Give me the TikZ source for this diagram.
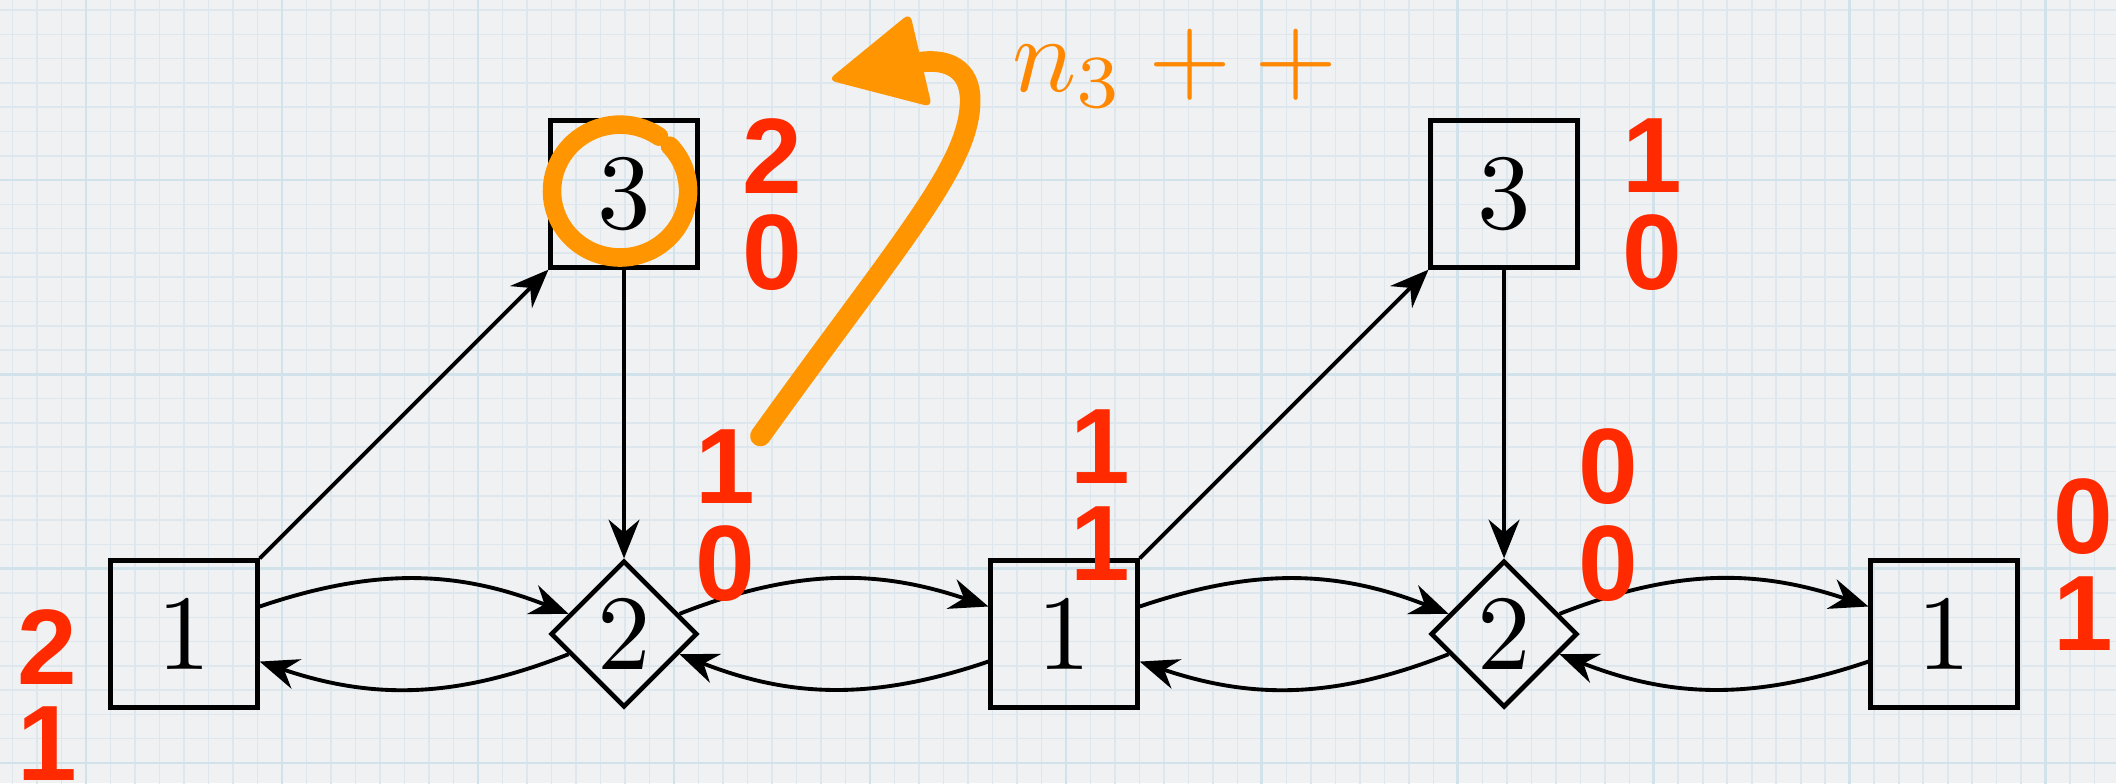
\documentclass[tikz,border=0pt]{standalone}
\usepackage{fontspec}
\newfontfamily\cntfont{Liberation Sans}
\usetikzlibrary{arrows.meta}
\usetikzlibrary{shapes.geometric}

\definecolor{paper}{HTML}{EFF1F3}
\definecolor{minorline}{HTML}{DDE7ED}
\definecolor{majorline}{HTML}{D2E2EB}
\definecolor{cntred}{HTML}{FF2A00}
\definecolor{brush}{HTML}{FF9500}
\definecolor{brushtext}{HTML}{FF8800}

% node labels: 10pt design, blown up
\newcommand\nlbl[1]{\scalebox{2.074}{#1}}

\begin{document}
\begin{tikzpicture}[
  sq/.style={draw, line width=0.9pt, minimum size=1cm, inner sep=0pt},
  dm/.style={draw, diamond, line width=0.9pt, minimum size=1cm, inner sep=0pt},
  edge/.style={line width=0.75pt, -{Stealth[length=7.5pt, width=6pt, inset=2.5pt]}},
  cnt/.style={text=cntred, align=center, inner sep=0pt, font=\cntfont\bfseries\fontsize{20.8}{18.8}\selectfont},
  brushline/.style={draw=brush, line cap=round, line join=round}
]
  \def\W{13.172}
  \def\S{-1.0159}
  \def\N{4.3227}
  \def\E{-1.2545}
  \useasboundingbox (\E,\S) rectangle (\W,\N);
  \fill[paper] (\E,\S) rectangle (\W,\N);

  % graph paper
  \begin{scope}
    \clip (\E,\S) rectangle (\W,\N);
    \foreach \i in {0,...,88} \draw[minorline, line width=0.3pt] ({-1.336+\i*0.167},-1.1) -- ++(0,5.5);
    \foreach \j in {0,...,33} \draw[minorline, line width=0.3pt] (-1.3,{-1.045+\j*0.1656}) -- ++(14.6,0);
    \foreach \i in {0,...,11} \draw[majorline, line width=0.5pt] ({-0.668+\i*1.336},-1.1) -- ++(0,5.5);
    \foreach \j in {0,...,4} \draw[majorline, line width=0.5pt] (-1.3,{-0.88+\j*1.325}) -- ++(14.6,0);
  \end{scope}

  \node[sq] (A) at (0,0) {\nlbl{1}};
  \node[dm] (B) at (3,0) {\nlbl{2}};
  \node[sq] (C) at (6,0) {\nlbl{1}};
  \node[dm] (D) at (9,0) {\nlbl{2}};
  \node[sq] (E) at (12,0) {\nlbl{1}};
  \node[sq] (F) at (3,3) {\nlbl{3}};
  \node[sq] (G) at (9,3) {\nlbl{3}};

  \foreach \u/\v in {A/B,B/C,C/D,D/E} {
    \draw[edge] (\u) to[bend left=20] (\v);
    \draw[edge] (\v) to[bend left=20] (\u);
  }
  \draw[edge] (A) -- (F);
  \draw[edge] (C) -- (G);
  \draw[edge] (F) -- (B);
  \draw[edge] (G) -- (D);

  \node[cnt] (nA) at (-0.934,-0.416) {2\\1};
  \node[cnt] (nB) at (3.689,0.808) {1\\0};
  \node[cnt] (nC) at (6.249,0.948) {1\\1};
  \node[cnt] (nD) at (9.709,0.808) {0\\0};
  \node[cnt] (nE) at (12.948,0.474) {0\\1};
  \node[cnt] (nF) at (4.009,2.928) {2\\0};
  \node[cnt] (nG) at (10.01,2.928) {1\\0};

  % the marks in orange
  \coordinate (ring) at (2.973,3.020);
  \draw[brushline, line width=3.6pt] ([shift={(43:0.464cm and 0.453cm)}]ring) arc[start angle=43, end angle=-305, x radius=0.464, y radius=0.453];
  \draw[brushline, line width=4pt] (3.93,1.35) .. controls (4.9,2.7) and (5.36,3.2) .. (5.36,3.64)
    .. controls (5.36,3.86) and (5.2,3.92) .. (5.03,3.90);
  \fill[brush, rounded corners=1.5pt] (4.391,3.777) -- (4.950,4.234) -- (5.100,3.593) -- cycle;
  \node[text=brushtext, anchor=base west, inner sep=0pt] (inc) at (5.64,3.70) {\nlbl{$n_3 + +$}};
\end{tikzpicture}
\end{document}
